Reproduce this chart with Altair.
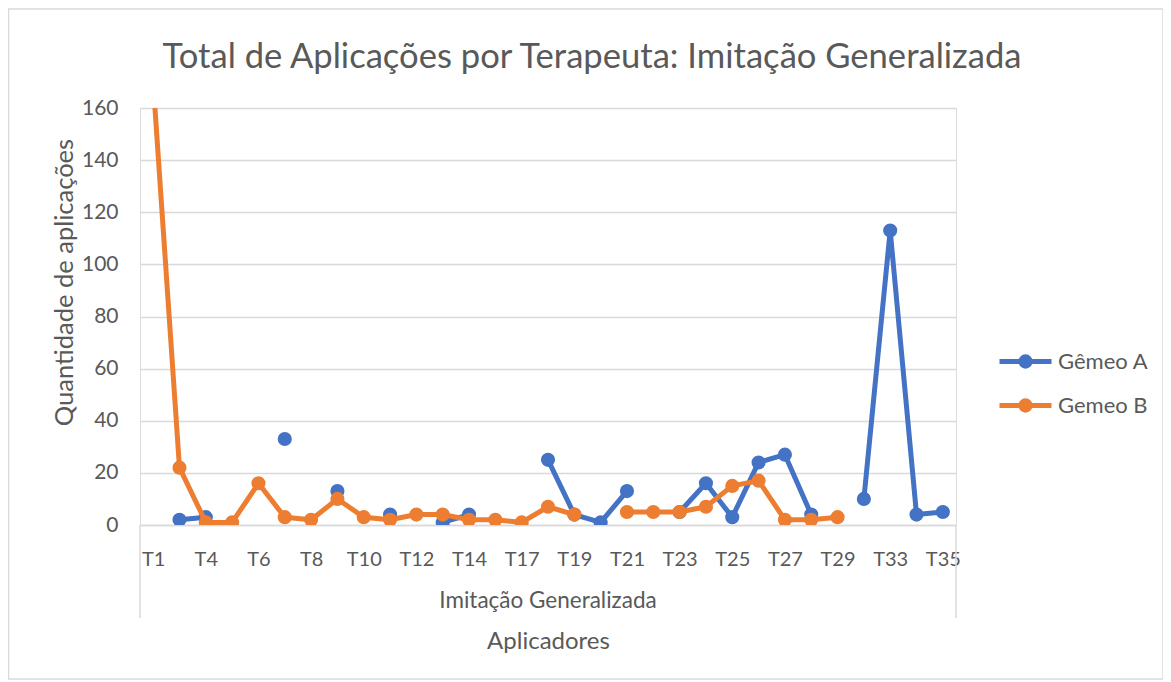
import altair as alt
import pandas as pd

# ---- data ----
categorias = ["T1", "T2", "T4", "T5", "T6", "T7", "T8", "T9", "T10", "T11", "T12",
              "T13", "T14", "T15", "T17", "T18", "T19", "T20", "T21", "T22", "T23",
              "T24", "T25", "T26", "T27", "T28", "T29", "T30", "T33", "T34", "T35"]
gemeo_a = [None, 2, 3, None, None, 33, None, 13, None, 4, None, 1, 4, None, None, 25,
           4, 1, 13, None, 5, 16, 3, 24, 27, 4, None, 10, 113, 4, 5]
gemeo_b = [170, 22, 1, 1, 16, 3, 2, 10, 3, 2, 4, 4, 2, 2, 1, 7, 4, None, 5, 5, 5,
           7, 15, 17, 2, 2, 3, None, None, None, None]
series = ["Gêmeo A", "Gemeo B"]
cores = ["#4472C4", "#ED7D31"]
y_ticks = [0, 20, 40, 60, 80, 100, 120, 140, 160]
x_labels = categorias[::2]
titulo = ["Total de Aplicações por Terapeuta: Imitação Generalizada"]
grupo = ["Imitação Generalizada"]

W, H = 816, 417
FONT = "Lato"
TXT = "#595959"
GRID = "#d9d9d9"

n = len(categorias)
df = pd.DataFrame({
    "Aplicador": categorias * 2,
    "Serie": [series[0]] * n + [series[1]] * n,
    "Quantidade": gemeo_a + gemeo_b,
    "ordem": list(range(n)) * 2,
})

# legend symbol: line with a filled dot (concentric strokes make a solid disk)
legend_symbol = ("M-2,0H2"
                 "M0.36,0A0.36,0.36 0 1,1 -0.36,0A0.36,0.36 0 1,1 0.36,0"
                 "M0.16,0A0.16,0.16 0 1,1 -0.16,0A0.16,0.16 0 1,1 0.16,0")

x_enc = alt.X(
    "Aplicador:N", sort=categorias,
    scale=alt.Scale(type="point", padding=0.5),
    axis=alt.Axis(values=x_labels, labelAngle=0, labelPadding=40,
                  labelBaseline="alphabetic", labelFontSize=20, labelColor=TXT,
                  labelFont=FONT, ticks=False, tickSize=0, domainColor=GRID,
                  domainWidth=1.5, grid=False, title="Aplicadores", titleFont=FONT,
                  titleFontSize=24, titleColor=TXT, titleFontWeight="normal",
                  titleY=123, titleBaseline="alphabetic"),
)
y_enc = alt.Y(
    "Quantidade:Q",
    scale=alt.Scale(domain=[0, 160], nice=False, zero=True),
    axis=alt.Axis(values=y_ticks, domain=False, ticks=False, tickSize=0,
                  labelPadding=22, labelFontSize=21, labelColor=TXT, labelFont=FONT,
                  gridColor=GRID, gridWidth=1.5, title="Quantidade de aplicações",
                  titleFont=FONT, titleFontSize=25.5, titleColor=TXT,
                  titleFontWeight="normal", titleX=-76, titleY=174, titleAngle=270,
                  titleAlign="center", titleBaseline="middle"),
)
color_enc = alt.Color(
    "Serie:N",
    scale=alt.Scale(domain=series, range=cores),
    legend=alt.Legend(title=None, orient="none", legendX=870, legendY=238,
                      symbolType=legend_symbol, symbolSize=676, symbolStrokeWidth=5,
                      labelFontSize=22, labelFont=FONT, labelColor=TXT,
                      labelOffset=17, rowPadding=13, padding=0),
)

base = alt.Chart(df).encode(x=x_enc, y=y_enc, color=color_enc,
                            order=alt.Order("ordem:Q"))

layers = []
for s in series:
    sub = base.transform_filter(alt.datum.Serie == s)
    layers.append(sub.mark_line(strokeWidth=5, clip=True, strokeJoin="round",
                                strokeCap="round",
                                invalid="break-paths-filter-domains"))
    layers.append(sub.mark_circle(size=200, opacity=1, clip=True))

dummy = pd.DataFrame({"k": [0]})
frame = alt.Chart(dummy).mark_rect(fill="transparent", stroke=GRID, strokeWidth=1.5).encode(
    x=alt.value(-131.5), x2=alt.value(1023), y=alt.value(-99), y2=alt.value(571))
box_l = alt.Chart(dummy).mark_rule(color=GRID, strokeWidth=1.5).encode(
    x=alt.value(0), y=alt.value(H), y2=alt.value(510))
box_r = alt.Chart(dummy).mark_rule(color=GRID, strokeWidth=1.5).encode(
    x=alt.value(W), y=alt.value(H), y2=alt.value(510))
grp = alt.Chart(pd.DataFrame({"t": grupo})).mark_text(
    font=FONT, fontSize=22.5, color=TXT, baseline="alphabetic", align="center").encode(
    text="t:N", x=alt.value(W / 2), y=alt.value(500))
ttl = alt.Chart(pd.DataFrame({"t": titulo})).mark_text(
    font=FONT, fontSize=34.6, color=TXT, baseline="alphabetic", align="center").encode(
    text="t:N", x=alt.value(452), y=alt.value(-40))

chart = alt.layer(frame, box_l, box_r, grp, ttl, *layers).properties(
    width=W, height=H,
    autosize=alt.AutoSizeParams(type="none"),
    padding={"left": 132, "top": 100, "right": 207, "bottom": 155},
).configure_view(stroke="transparent").configure(background="white")

chart.save("out.html", embed_options={"renderer": "svg", "actions": False})
